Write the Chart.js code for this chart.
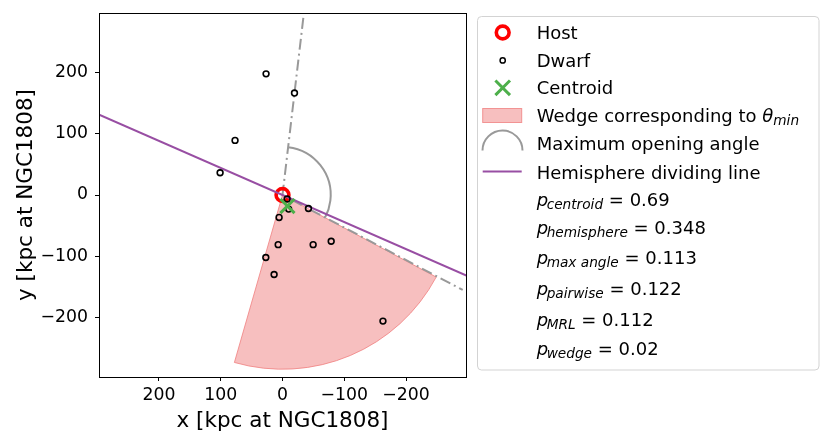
<!DOCTYPE html>
<html>
<head>
<meta charset="utf-8">
<script src="https://cdn.jsdelivr.net/npm/chart.js@4.4.1/dist/chart.umd.min.js"></script>
<style>
  html, body { margin: 0; padding: 0; background: #fff; }
  #wrap { position: relative; width: 830px; height: 443px; }
  #chart, #legend { position: absolute; left: 0; top: 0; }
  #legend text { font-family: "DejaVu Sans"; fill: #000; }
</style>
</head>
<body>
<div id="wrap">
  <canvas id="chart" width="830" height="443"></canvas>
  <svg id="legend" width="830" height="443" xmlns="http://www.w3.org/2000/svg"></svg>
</div>
<script>
// values (kpc, degrees)
const hostX = [0];
const hostY = [0];
const dwarfX = [26.6, -19.4, 76.8, 101, -7.5, -10, -42, 5.5, 7, -49.6, -78.8, 27, 13.6, -162.6];
const dwarfY = [197.7, 166.4, 89.1, 36.3, -6.5, -23, -22, -36.6, -81, -81, -75.5, -102, -129.7, -205.8];
const centroidX = [-8];
const centroidY = [-18];
const hemiX = [300, -300];
const hemiY = [132.6, -132.6];
const rayX = [-33.7, 0, -291.7];
const rayY = [289, 0, -155];
const maxAngle = [96.7, 207.9];
const maxAngleRadius = [78];
const wedgeAngle = [208.3, 285.9];
const wedgeRadius = [282];
const xTicks = [200, 100, 0, -100, -200];
const yTicks = [200, 100, 0, -100, -200];
const legendLabels = ["Host", "Dwarf", "Centroid", "Wedge corresponding to ", "Maximum opening angle", "Hemisphere dividing line"];
const pNames = ["centroid", "hemisphere", "max angle", "pairwise", "MRL", "wedge"];
const pValues = ["0.69", "0.348", "0.113", "0.122", "0.112", "0.02"];

const toPts = (xs, ys) => xs.map((x, i) => ({x: x, y: ys[i]}));
const fmt = v => v < 0 ? "\u2212" + Math.abs(v) : String(v);

const WEDGE_FILL = "rgba(240,128,128,0.5)";
const WEDGE_EDGE = "rgba(240,128,128,0.8)";
const GREY = "#999999";
const PURPLE = "#984ea3";
const GREEN = "#4daf4a";

// wedge, opening-angle arc and the box frame
const shapes = {
    id: "shapes",
    beforeDatasetsDraw(chart) {
        const {ctx, chartArea: a, scales: {x, y}} = chart;
        const cx = x.getPixelForValue(0), cy = y.getPixelForValue(0);
        const k = Math.abs(x.getPixelForValue(1) - cx);
        const ang = t => {
            const r = t * Math.PI / 180;
            return Math.atan2(y.getPixelForValue(Math.sin(r)) - cy, x.getPixelForValue(Math.cos(r)) - cx);
        };
        ctx.save();
        ctx.beginPath();
        ctx.rect(a.left, a.top, a.right - a.left, a.bottom - a.top);
        ctx.clip();

        ctx.beginPath();
        ctx.moveTo(cx, cy);
        ctx.arc(cx, cy, wedgeRadius[0] * k, ang(wedgeAngle[0]), ang(wedgeAngle[1]), false);
        ctx.closePath();
        ctx.fillStyle = WEDGE_FILL;
        ctx.fill();
        ctx.lineWidth = 1;
        ctx.strokeStyle = WEDGE_EDGE;
        ctx.stroke();

        ctx.beginPath();
        ctx.arc(cx, cy, maxAngleRadius[0] * k, ang(maxAngle[0]), ang(maxAngle[1]), false);
        ctx.lineWidth = 2;
        ctx.strokeStyle = GREY;
        ctx.stroke();
        ctx.restore();
    },
    afterDraw(chart) {
        const {ctx, chartArea: a} = chart;
        ctx.save();
        ctx.strokeStyle = "#000";
        ctx.lineWidth = 1;
        ctx.strokeRect(Math.round(a.left) + 0.5, Math.round(a.top) + 0.5,
            Math.round(a.right - a.left), Math.round(a.bottom - a.top));
        ctx.restore();
    }
};

const tickFont = {family: "DejaVu Sans", size: 17.3};
const titleFont = {family: "DejaVu Sans", size: 21.5};

new Chart(document.getElementById("chart"), {
    type: "scatter",
    data: {
        datasets: [
            {
                label: "Centroid",
                data: toPts(centroidX, centroidY),
                pointStyle: "crossRot",
                pointRadius: 10,
                borderColor: GREEN,
                borderWidth: 3,
                order: 0
            },
            {
                label: "Dwarf",
                data: toPts(dwarfX, dwarfY),
                pointRadius: 2.9,
                borderWidth: 1.6,
                borderColor: "#000",
                backgroundColor: "rgba(0,0,0,0)",
                order: 1
            },
            {
                label: "Hemisphere dividing line",
                type: "line",
                data: toPts(hemiX, hemiY),
                borderColor: PURPLE,
                borderWidth: 2,
                pointRadius: 0,
                clip: 0,
                order: 2
            },
            {
                label: "Host",
                data: toPts(hostX, hostY),
                pointRadius: 6.4,
                borderWidth: 3.6,
                borderColor: "#ff0000",
                backgroundColor: "rgba(0,0,0,0)",
                order: 3
            },
            {
                label: "Maximum opening angle",
                type: "line",
                data: toPts(rayX, rayY),
                borderColor: GREY,
                borderWidth: 2,
                borderDash: [11, 4, 2, 4],
                pointRadius: 0,
                clip: 0,
                order: 4
            }
        ]
    },
    options: {
        responsive: false,
        animation: false,
        devicePixelRatio: 1,
        layout: {padding: {left: 0, right: 364, top: 11, bottom: 0}},
        plugins: {legend: {display: false}, tooltip: {enabled: false}},
        scales: {
            x: {
                type: "linear",
                reverse: true,
                min: -297,
                max: 297,
                afterBuildTicks: s => { s.ticks = xTicks.map(v => ({value: v})); },
                afterFit: s => { s.height = 66; s.paddingLeft = 0; s.paddingRight = 0; },
                ticks: {callback: v => fmt(v), font: tickFont, color: "#000", padding: 4, maxRotation: 0, autoSkip: false},
                grid: {drawOnChartArea: false, drawTicks: true, tickLength: 4, tickColor: "#000", tickWidth: 1},
                border: {display: true, color: "#000", width: 1},
                title: {display: true, text: "x [kpc at NGC1808]", font: titleFont, color: "#000", padding: {top: 0, bottom: 9}}
            },
            y: {
                type: "linear",
                min: -297,
                max: 297,
                afterBuildTicks: s => { s.ticks = yTicks.map(v => ({value: v})); },
                afterFit: s => { s.width = 99; s.paddingTop = 0; s.paddingBottom = 0; },
                ticks: {callback: v => fmt(v), font: tickFont, color: "#000", padding: 7, autoSkip: false},
                grid: {drawOnChartArea: false, drawTicks: true, tickLength: 4, tickColor: "#000", tickWidth: 1},
                border: {display: true, color: "#000", width: 1},
                title: {display: true, text: "y [kpc at NGC1808]", font: titleFont, color: "#000", padding: {top: 14, bottom: 0}}
            }
        }
    },
    plugins: [shapes]
});

// legend box
const NS = "http://www.w3.org/2000/svg";
const svg = document.getElementById("legend");
function el(tag, attrs, parent, text) {
    const e = document.createElementNS(NS, tag);
    for (const k in attrs) e.setAttribute(k, attrs[k]);
    if (text !== undefined) e.textContent = text;
    (parent || svg).appendChild(e);
    return e;
}

el("rect", {x: 477.5, y: 16.5, width: 341.5, height: 353.5, rx: 4, fill: "#fff", stroke: "#d3d3d3", "stroke-width": 1});

const iconX = 502.7, textX = 536.7;
const rowBase = [39.1, 67, 94.4, 122, 150.4, 178.6];
const pBase = [205.5, 233.5, 263.5, 294.5, 326, 354.5];

// icons
el("circle", {cx: iconX, cy: rowBase[0] - 6.6, r: 6.4, fill: "none", stroke: "#ff0000", "stroke-width": 3.6});
el("circle", {cx: iconX, cy: rowBase[1] - 6.6, r: 2.6, fill: "none", stroke: "#000", "stroke-width": 1.5});
const cy3 = rowBase[2] - 6.6;
el("path", {d: `M${iconX - 7.3} ${cy3 - 7.3} L${iconX + 7.3} ${cy3 + 7.3} M${iconX - 7.3} ${cy3 + 7.3} L${iconX + 7.3} ${cy3 - 7.3}`,
    stroke: GREEN, "stroke-width": 3, fill: "none"});
el("rect", {x: 482.7, y: 108.5, width: 39, height: 14, fill: WEDGE_FILL, stroke: WEDGE_EDGE, "stroke-width": 1});
el("path", {d: "M482.5 150.5 A20 20 0 0 1 522.5 150.5", fill: "none", stroke: GREY, "stroke-width": 2});
el("line", {x1: 482.7, y1: 171.6, x2: 521.7, y2: 171.6, stroke: PURPLE, "stroke-width": 2});

// labels
legendLabels.forEach((lab, i) => {
    const t = el("text", {x: textX, y: rowBase[i], "font-size": 18}, svg, lab);
    if (i === 3) {
        el("tspan", {"font-style": "italic"}, t, "\u03b8");
        el("tspan", {"font-style": "italic", "font-size": 13.7, dy: 3.2}, t, "min");
    }
});
pNames.forEach((name, i) => {
    const t = el("text", {x: textX, y: pBase[i], "font-size": 18});
    el("tspan", {"font-style": "italic"}, t, "p");
    el("tspan", {"font-style": "italic", "font-size": 13.7, dy: 3.2, dx: -1.5}, t, name);
    el("tspan", {dy: -3.2}, t, " = " + pValues[i]);
});
</script>
</body>
</html>
